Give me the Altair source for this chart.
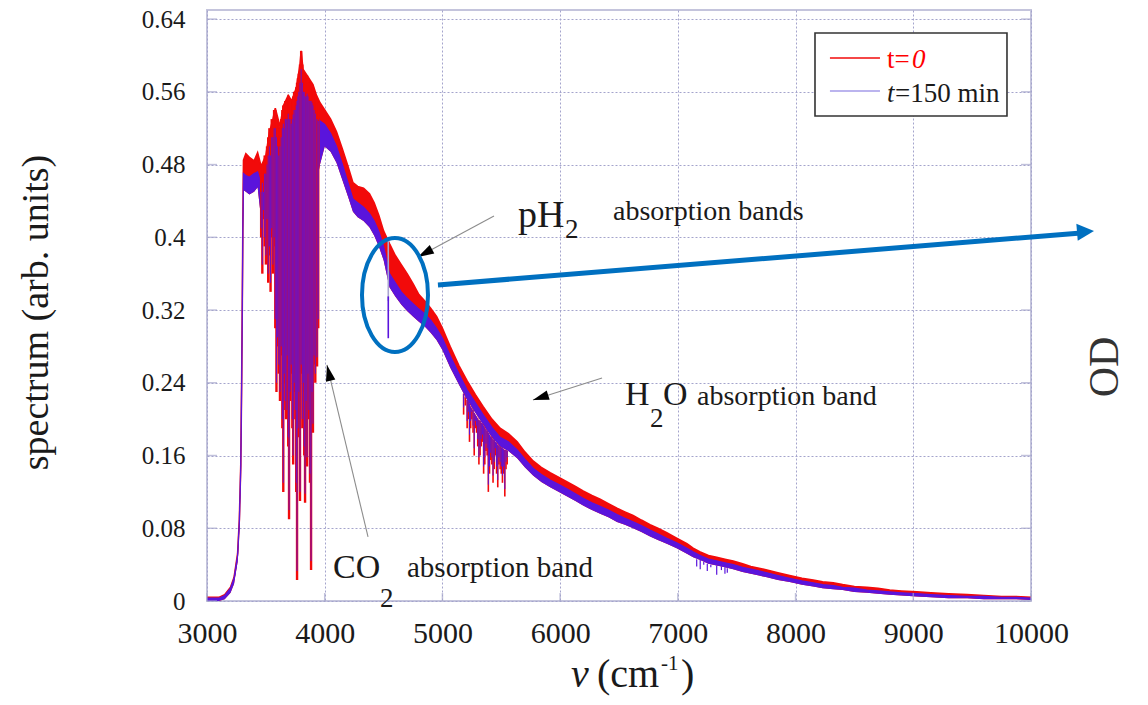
import altair as alt
import pandas as pd

# ---------------- data ----------------
nu = [3000, 3100, 3150, 3200, 3230, 3260, 3275, 3287, 3295, 3300, 3305, 3310, 3330, 3360,
      3400, 3430, 3460, 3500, 3530, 3560, 3580, 3620, 3650, 3690, 3720, 3760, 3790, 3800,
      3815, 3850, 3880, 3900, 3930, 3960, 4000, 4050, 4100, 4150, 4200, 4240, 4280, 4330,
      4380, 4420, 4460, 4500, 4550, 4600, 4650, 4700, 4750, 4800, 4850, 4900, 4950, 5000,
      5065, 5140, 5210, 5280, 5345, 5420, 5490, 5560, 5635, 5700, 5770, 5840, 5915, 5990,
      6060, 6130, 6195, 6270, 6340, 6410, 6483, 6550, 6620, 6690, 6764, 6830, 6906, 6990,
      7077, 7130, 7190, 7260, 7330, 7400, 7470, 7550, 7620, 7690, 7757, 7850, 7950, 8055,
      8150, 8230, 8320, 8400, 8500, 8606, 8700, 8800, 8900, 9030, 9150, 9300, 9457, 9600,
      9750, 9870, 10000]

# t = 0 spectrum, upper edge of the (noisy) trace
red_hi = [0.004, 0.004, 0.007, 0.015, 0.026, 0.052, 0.090, 0.150, 0.250, 0.330, 0.420, 0.485,
          0.492, 0.488, 0.484, 0.493, 0.478, 0.490, 0.515, 0.530, 0.542, 0.522, 0.545, 0.556,
          0.550, 0.565, 0.590, 0.605, 0.585, 0.578, 0.572, 0.568, 0.556, 0.548, 0.540, 0.530,
          0.516, 0.497, 0.477, 0.460, 0.456, 0.454, 0.448, 0.438, 0.424, 0.407, 0.393, 0.380,
          0.370, 0.360, 0.349, 0.337, 0.330, 0.322, 0.313, 0.300, 0.280, 0.259, 0.242, 0.227,
          0.214, 0.200, 0.190, 0.184, 0.175, 0.164, 0.154, 0.147, 0.141, 0.136, 0.131, 0.126,
          0.121, 0.116, 0.112, 0.107, 0.102, 0.098, 0.094, 0.089, 0.084, 0.080, 0.075, 0.069,
          0.063, 0.058, 0.054, 0.050, 0.048, 0.046, 0.044, 0.041, 0.038, 0.036, 0.034, 0.031,
          0.028, 0.025, 0.023, 0.021, 0.020, 0.018, 0.016, 0.015, 0.014, 0.012, 0.011, 0.010,
          0.009, 0.008, 0.007, 0.006, 0.005, 0.005, 0.004]

# t = 150 min spectrum, upper and lower edges of the trace
blue_hi = [0.003, 0.003, 0.006, 0.014, 0.025, 0.050, 0.088, 0.148, 0.247, 0.326, 0.415, 0.470,
           0.468, 0.466, 0.470, 0.472, 0.458, 0.470, 0.495, 0.510, 0.520, 0.505, 0.525, 0.535,
           0.530, 0.545, 0.570, 0.585, 0.565, 0.556, 0.550, 0.545, 0.533, 0.528, 0.524, 0.514,
           0.500, 0.480, 0.459, 0.442, 0.438, 0.433, 0.426, 0.418, 0.406, 0.390, 0.360, 0.350,
           0.340, 0.333, 0.327, 0.321, 0.316, 0.309, 0.300, 0.289, 0.270, 0.250, 0.232, 0.218,
           0.205, 0.191, 0.180, 0.175, 0.166, 0.156, 0.146, 0.139, 0.133, 0.128, 0.123, 0.118,
           0.113, 0.108, 0.104, 0.100, 0.095, 0.091, 0.087, 0.083, 0.078, 0.074, 0.069, 0.064,
           0.058, 0.054, 0.050, 0.046, 0.044, 0.042, 0.040, 0.037, 0.035, 0.033, 0.031, 0.028,
           0.025, 0.022, 0.020, 0.018, 0.017, 0.015, 0.014, 0.012, 0.011, 0.010, 0.009, 0.008,
           0.007, 0.006, 0.005, 0.005, 0.004, 0.004, 0.003]

blue_lo = [0.000, 0.000, 0.002, 0.009, 0.019, 0.043, 0.080, 0.138, 0.235, 0.312, 0.400, 0.452,
           0.450, 0.447, 0.450, 0.455, 0.420, 0.440, 0.460, 0.470, 0.460, 0.440, 0.450, 0.450,
           0.450, 0.460, 0.480, 0.500, 0.480, 0.470, 0.460, 0.460, 0.460, 0.480, 0.500, 0.494,
           0.482, 0.463, 0.444, 0.428, 0.422, 0.418, 0.411, 0.402, 0.390, 0.375, 0.345, 0.335,
           0.326, 0.319, 0.313, 0.307, 0.302, 0.295, 0.287, 0.276, 0.257, 0.238, 0.221, 0.207,
           0.194, 0.180, 0.170, 0.165, 0.157, 0.147, 0.138, 0.131, 0.125, 0.120, 0.115, 0.110,
           0.105, 0.100, 0.096, 0.092, 0.087, 0.084, 0.080, 0.076, 0.071, 0.067, 0.063, 0.058,
           0.052, 0.048, 0.045, 0.041, 0.039, 0.037, 0.035, 0.032, 0.030, 0.028, 0.026, 0.023,
           0.021, 0.018, 0.016, 0.014, 0.013, 0.012, 0.010, 0.009, 0.008, 0.007, 0.006, 0.005,
           0.004, 0.003, 0.003, 0.002, 0.002, 0.002, 0.001]

# CO2 absorption lines (3460-3950 cm-1): line position, bottom of line, top of line
co2_nu = [3460, 3470, 3480, 3490, 3500, 3510, 3520, 3530, 3540, 3550, 3560, 3570, 3580, 3590,
          3600, 3610, 3620, 3630, 3640, 3648, 3655, 3665, 3672, 3680, 3690, 3697, 3705, 3715,
          3725, 3732, 3740, 3750, 3758, 3765, 3772, 3780, 3790, 3800, 3810, 3818, 3826, 3833,
          3842, 3850, 3858, 3866, 3875, 3884, 3892, 3900, 3910, 3920, 3935, 3945]
co2_min = [0.40, 0.36, 0.42, 0.39, 0.37, 0.41, 0.35, 0.38, 0.34, 0.40, 0.36, 0.39, 0.30, 0.23,
           0.28, 0.25, 0.22, 0.27, 0.19, 0.12, 0.24, 0.21, 0.20, 0.26, 0.17, 0.09, 0.22, 0.25,
           0.19, 0.15, 0.23, 0.20, 0.12, 0.023, 0.18, 0.22, 0.11, 0.25, 0.19, 0.23, 0.16, 0.108,
           0.21, 0.148, 0.24, 0.20, 0.13, 0.034, 0.22, 0.185, 0.26, 0.24, 0.258, 0.30]
co2_top = [0.47, 0.48, 0.47, 0.49, 0.49, 0.50, 0.51, 0.52, 0.51, 0.53, 0.53, 0.54, 0.54, 0.53,
           0.52, 0.51, 0.52, 0.53, 0.54, 0.545, 0.54, 0.55, 0.55, 0.55, 0.556, 0.55, 0.55, 0.545,
           0.55, 0.555, 0.56, 0.56, 0.565, 0.57, 0.575, 0.58, 0.59, 0.605, 0.59, 0.58, 0.58, 0.575,
           0.575, 0.578, 0.575, 0.57, 0.57, 0.57, 0.568, 0.565, 0.56, 0.556, 0.55, 0.548]

# H2O absorption lines (5180-5550 cm-1)
h2o_nu = [5180, 5195, 5210, 5220, 5230, 5240, 5250, 5260, 5270, 5280, 5290, 5300, 5310, 5320,
          5330, 5340, 5350, 5360, 5370, 5380, 5390, 5400, 5410, 5420, 5430, 5440, 5450, 5460,
          5470, 5480, 5490, 5500, 5510, 5520, 5530, 5540, 5550]
h2o_min = [0.205, 0.215, 0.19, 0.20, 0.175, 0.19, 0.20, 0.185, 0.16, 0.19, 0.185, 0.17, 0.15,
           0.16, 0.17, 0.175, 0.14, 0.15, 0.165, 0.16, 0.12, 0.14, 0.155, 0.15, 0.13, 0.145,
           0.16, 0.14, 0.125, 0.15, 0.145, 0.14, 0.13, 0.14, 0.115, 0.145, 0.15]
h2o_top = [0.228, 0.224, 0.221, 0.219, 0.217, 0.214, 0.212, 0.210, 0.207, 0.205, 0.203, 0.201,
           0.199, 0.198, 0.196, 0.195, 0.193, 0.191, 0.189, 0.187, 0.185, 0.183, 0.181, 0.180,
           0.178, 0.177, 0.175, 0.174, 0.172, 0.171, 0.170, 0.169, 0.168, 0.167, 0.166, 0.166,
           0.165]

# weak lines near 7100-7450 cm-1
nir_nu = [7160, 7190, 7220, 7250, 7280, 7330, 7370, 7400, 7420]
nir_min = [0.038, 0.035, 0.040, 0.033, 0.037, 0.029, 0.034, 0.030, 0.031]
nir_top = [0.046, 0.045, 0.043, 0.041, 0.040, 0.039, 0.038, 0.037, 0.036]

# pH2 line seen only at t = 150 min
ph2_nu = [4540]
ph2_min = [0.289]
ph2_top = [0.400]

x_ticks = [3000, 4000, 5000, 6000, 7000, 8000, 9000, 10000]
y_ticks = [0, 0.08, 0.16, 0.24, 0.32, 0.4, 0.48, 0.56, 0.64]

series_names = ["t=0", "t=150 min"]

# ---------------- styling ----------------
FONT = "Liberation Serif, Times New Roman, serif"
RED = "#f20a0a"
BLUE = "#5a14dc"
LAV = "#a49be8"
ABLUE = "#0070c0"
INK = "#1a1a1a"
GRID = "#a4a4cc"
W, H = 824, 591

xs = alt.Scale(domain=[3000, 10000], nice=False, zero=False)
ys = alt.Scale(domain=[0, 0.65], nice=False, zero=False)

x_axis = alt.Axis(values=x_ticks, format="d", ticks=False, domain=False, grid=True,
                  gridDash=[2, 2], gridColor=GRID, gridWidth=1, gridOpacity=1,
                  labelFont=FONT, labelFontSize=30, labelColor=INK, labelPadding=17,
                  title="", labelFlush=False)
y_axis = alt.Axis(values=y_ticks, format=".2~f", ticks=False, domain=False, grid=True,
                  gridDash=[2, 2], gridColor=GRID, gridWidth=1, gridOpacity=1,
                  labelFont=FONT, labelFontSize=25, labelColor=INK, labelPadding=22,
                  title="spectrum (arb. units)", titleFont=FONT, titleFontSize=38,
                  titleFontWeight="normal", titleColor=INK, titleAngle=270,
                  titleBaseline="bottom", titleAlign="center", titleX=-152, titleY=302)


def X(f):
    return alt.X(f, type="quantitative", scale=xs, axis=x_axis)


def Y(f):
    return alt.Y(f, type="quantitative", scale=ys, axis=y_axis)


spec = pd.DataFrame({"nu": nu, "red_hi": red_hi, "blue_hi": blue_hi, "blue_lo": blue_lo})

red_area = alt.Chart(spec).mark_area(color=RED, opacity=1).encode(
    x=X("nu"), y=Y("red_hi"), y2="blue_lo")
red_line = alt.Chart(spec).mark_line(color=RED, strokeWidth=1.6).encode(
    x=X("nu"), y=Y("red_hi"))
blue_area = alt.Chart(spec).mark_area(color=BLUE, opacity=1).encode(
    x=X("nu"), y=Y("blue_hi"), y2="blue_lo")
blue_line = alt.Chart(spec).mark_line(color=BLUE, strokeWidth=1.3).encode(
    x=X("nu"), y=Y("blue_hi"))


def lines(n, lo, top, color, width):
    df = pd.DataFrame({"nu": n, "lo": lo, "top": top})
    return alt.Chart(df).mark_rule(color=color, strokeWidth=width).encode(
        x=X("nu"), y=Y("lo"), y2="top")


co2_r = lines(co2_nu, co2_min, co2_top, RED, 2.4)
co2_b = lines(co2_nu, [m + 0.01 for m in co2_min], [t - 0.02 for t in co2_top], BLUE, 0.9)
h2o_r = lines(h2o_nu, h2o_min, h2o_top, RED, 1.6)
h2o_b = lines(h2o_nu, [m + 0.008 for m in h2o_min], h2o_top, BLUE, 1.0)
nir_b = lines(nir_nu, nir_min, nir_top, BLUE, 1.2)
ph2_g = lines(ph2_nu, [0.33], ph2_top, "#aaa4d0", 1.6)
ph2_b = lines(ph2_nu, ph2_min, [0.335], BLUE, 1.6)

# inward tick marks on the frame
yt = pd.DataFrame({"v": y_ticks})
xt = pd.DataFrame({"nu": x_ticks})
TICK = "#a6a6cc"
lt = alt.Chart(yt).mark_tick(orient="horizontal", color=TICK, size=10, thickness=1.5).encode(
    y=Y("v"), x=alt.value(5))
rt = alt.Chart(yt).mark_tick(orient="horizontal", color=TICK, size=10, thickness=1.5).encode(
    y=Y("v"), x=alt.value(W - 5))
bt = alt.Chart(xt).mark_tick(orient="vertical", color=TICK, size=8, thickness=1.5).encode(
    x=X("nu"), y=alt.value(H - 4))

# ---------------- annotations (positions in data units) ----------------
texts = [
    # text, nu, value, size, italic, color
    ("pH", 5642, 0.4113, 38, False, INK),
    ("2", 6041, 0.3992, 27, False, INK),
    ("absorption bands", 6449, 0.4190, 28, False, INK),
    ("CO", 4070, 0.0253, 34, False, INK),
    ("2", 4470, -0.0066, 27, False, INK),
    ("absorption band", 4699, 0.0264, 29, False, INK),
    ("H", 6551, 0.2156, 34, False, INK),
    ("2", 6763, 0.1914, 27, False, INK),
    ("O", 6874, 0.2156, 34, False, INK),
    ("absorption band", 7163, 0.2156, 28, False, INK),
    ("ν", 6092, -0.0946, 40, True, INK),
    ("(cm", 6313, -0.0946, 40, False, INK),
    ("-1", 6857, -0.0759, 21, False, INK),
    (")", 7027, -0.0946, 40, False, INK),
    ("t=", 8777, 0.5862, 27, False, "#ff0000"),
    ("0", 8989, 0.5862, 27, True, "#ff0000"),
    ("t", 8777, 0.5488, 27, True, INK),
    ("=150 min", 8845, 0.5488, 27, False, INK),
]

text_layers = []
for t, xn, yv, sz, it, col in texts:
    df = pd.DataFrame({"nu": [xn], "v": [yv], "label": [t]})
    text_layers.append(
        alt.Chart(df).mark_text(font=FONT, fontSize=sz, fontStyle="italic" if it else "normal",
                                color=col, align="left", baseline="alphabetic")
        .encode(x=X("nu"), y=Y("v"), text="label:N"))

od = alt.Chart(pd.DataFrame({"nu": [10629], "v": [0.2574], "label": ["OD"]})).mark_text(
    font=FONT, fontSize=42, color="#333333", align="center", baseline="middle", angle=270
).encode(x=X("nu"), y=Y("v"), text="label:N")

# legend box and sample lines
legend_box = alt.Chart(pd.DataFrame({"x1": [8165], "x2": [9796], "y1": [0.6247], "y2": [0.5334]})
                       ).mark_rect(fill="white", stroke="#333333", strokeWidth=1.6).encode(
    x=X("x1"), x2="x2", y=Y("y1"), y2="y2")
legend_lines = alt.Chart(pd.DataFrame({"x1": [8292, 8292], "x2": [8717, 8717],
                                       "v": [0.5972, 0.5609], "s": series_names})
                         ).mark_rule(strokeWidth=1.6).encode(
    x=X("x1"), x2="x2", y=Y("v"),
    color=alt.Color("s:N", scale=alt.Scale(domain=series_names, range=[RED, LAV]), legend=None))

# thin grey pointer arrows
arrows = pd.DataFrame({
    "x1": [5438, 4368, 6356], "y1": [0.4235, 0.0704, 0.2453],
    "x2": [4792, 4019, 5769], "y2": [0.3784, 0.2596, 0.2211],
    "ang": [241.6, 346.6, 252.3]})
arrow_lines = alt.Chart(arrows).mark_rule(color="#8c8c8c", strokeWidth=1.1).encode(
    x=X("x1"), y=Y("y1"), x2="x2", y2="y2")
arrow_heads = alt.Chart(arrows).mark_point(
    shape="M0,0L0.6,2L-0.6,2Z", filled=True, color="black", opacity=1, size=256).encode(
    x=X("x2"), y=Y("y2"), angle=alt.Angle("ang:Q", scale=None))

# blue ellipse and long blue arrow
ellipse = alt.Chart(pd.DataFrame({"nu": [4597], "v": [0.3366]})).mark_point(
    shape="M0,-1C0.32,-1,0.579,-0.552,0.579,0C0.579,0.552,0.32,1,0,1C-0.32,1,-0.579,0.552,"
          "-0.579,0C-0.579,-0.552,-0.32,-1,0,-1Z",
    filled=False, stroke=ABLUE, strokeWidth=4, opacity=1, size=12996).encode(
    x=X("nu"), y=Y("v"))
big_arrow = alt.Chart(pd.DataFrame({"x1": [4962], "y1": [0.3476], "x2": [10399], "y2": [0.4045]})
                      ).mark_rule(color=ABLUE, strokeWidth=5).encode(
    x=X("x1"), y=Y("y1"), x2="x2", y2="y2")
big_head = alt.Chart(pd.DataFrame({"nu": [10535], "v": [0.4070], "ang": [85.3]})).mark_point(
    shape="M0,0L1,2L-1,2Z", filled=True, color=ABLUE, opacity=1, size=289).encode(
    x=X("nu"), y=Y("v"), angle=alt.Angle("ang:Q", scale=None))

chart = alt.layer(
    red_area, red_line, blue_area, blue_line,
    co2_r, co2_b, h2o_r, h2o_b, nir_b, ph2_g, ph2_b,
    lt, rt, bt,
    arrow_lines, arrow_heads, ellipse, big_arrow, big_head,
    legend_box, legend_lines, od, *text_layers
).properties(
    width=W, height=H,
    autosize=alt.AutoSizeParams(type="none"),
    padding={"left": 199, "top": 2, "right": 109, "bottom": 96},
    background="white",
).configure_view(stroke="#c4c4dc", strokeWidth=2)

chart.save("out.html", embed_options={"renderer": "svg", "actions": False})
